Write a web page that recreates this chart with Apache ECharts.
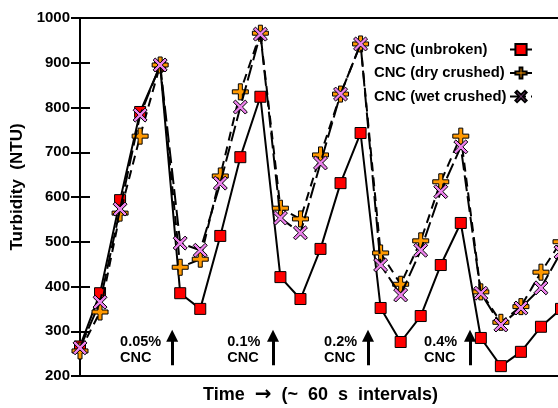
<!DOCTYPE html>
<html>
<head>
<meta charset="utf-8">
<script src="https://cdn.jsdelivr.net/npm/echarts@6/dist/echarts.min.js"></script>
<style>
  html, body { margin: 0; padding: 0; background: #fff; }
  #chart { width: 558px; height: 408px; }
</style>
</head>
<body>
<div id="chart"></div>
<script>
  // data (one reading per ~60 s interval)
  const unbroken = [266, 385, 593, 790, 893, 385, 350, 513, 689, 824, 421, 372, 484, 631, 743, 352, 276, 334, 448, 542, 285, 222, 254, 310, 350]
  const dryCrushed = [256, 343, 564, 736, 895, 443, 461, 647, 835, 966, 575, 551, 694, 830, 942, 475, 405, 502, 634, 736, 388, 320, 355, 432, 500]
  const wetCrushed = [263, 365, 573, 783, 895, 497, 481, 631, 801, 964, 553, 520, 676, 830, 942, 448, 381, 481, 612, 712, 385, 314, 352, 397, 477]
  const seriesNames = ['CNC (unbroken)', 'CNC (dry crushed)', 'CNC (wet crushed)']
  // CNC dose additions: arrow position (in intervals) and label
  const doseAt = [4.6, 9.63, 14.37, 19.46]
  const doseText = ['0.05%', '0.1%', '0.2%', '0.4%']
  const doseTextAt = [2.0, 7.35, 12.18, 17.17]
  const yTicks = [200, 1000, 100]

  const FONT = '"Liberation Sans", Arial, sans-serif'
  const plusPath = 'path://M6,0H10V6H16V10H10V16H6V10H0V6H6Z'
  const crossPath = 'path://M3,0L10,7L17,0L20,3L13,10L20,17L17,20L10,13L3,20L0,17L7,10L0,3Z'

  const toPairs = arr => arr.map((v, i) => [i, v])

  const chartDom = document.getElementById('chart')
  const myChart = echarts.init(chartDom)

  const option = {
    animation: false,
    textStyle: { fontFamily: FONT },
    grid: { left: 80, top: 18, right: -3, bottom: 32, outerBoundsMode: 'none' },
    legend: {
      orient: 'vertical',
      left: 369,
      top: 37,
      align: 'right',
      itemWidth: 22,
      itemHeight: 14,
      itemGap: 8.5,
      data: seriesNames,
      // fixed-width box so names stay left aligned and the keys line up
      formatter: name => '{n|' + name + '}',
      textStyle: {
        fontFamily: FONT, fontSize: 14.8, fontWeight: 'bold', color: '#000',
        rich: { n: { width: 131, align: 'left', fontFamily: FONT, fontSize: 14.8, fontWeight: 'bold', color: '#000', lineHeight: 14 } }
      }
    },
    xAxis: [{
      type: 'value',
      min: 0,
      max: unbroken.length - 1,
      name: '{t|Time}  {a|\u2192}  {t|(~  60  s  intervals)}',
      nameLocation: 'middle',
      nameGap: 9,
      nameTextStyle: {
        fontFamily: FONT, fontSize: 18, fontWeight: 'bold', color: '#000',
        rich: {
          t: { fontFamily: FONT, fontSize: 18, fontWeight: 'bold', color: '#000', lineHeight: 20 },
          a: { fontFamily: '"DejaVu Sans", sans-serif', fontSize: 20, color: '#000', lineHeight: 20 }
        }
      },
      axisLine: { onZero: false, lineStyle: { color: '#000', width: 2 } },
      axisTick: { show: false },
      axisLabel: { show: false },
      splitLine: { show: false }
    }, {
      type: 'value',
      position: 'top',
      min: 0,
      max: unbroken.length - 1,
      axisLine: { onZero: false, lineStyle: { color: '#000', width: 2 } },
      axisTick: { show: false },
      axisLabel: { show: false },
      splitLine: { show: false }
    }],
    yAxis: [{
      type: 'value',
      min: yTicks[0],
      max: yTicks[1],
      interval: yTicks[2],
      name: 'Turbidity  (NTU)',
      nameLocation: 'middle',
      nameGap: 51,
      nameTextStyle: { fontFamily: FONT, fontSize: 17, fontWeight: 'bold', color: '#000', padding: [0, 0, 0, 20] },
      axisLine: { show: true, lineStyle: { color: '#000', width: 2 } },
      axisTick: { show: true, inside: true, length: 10, lineStyle: { color: '#000', width: 2 } },
      axisLabel: { margin: 10, fontFamily: FONT, fontSize: 15, fontWeight: 'bold', color: '#000', formatter: v => String(v) },
      splitLine: { show: false }
    }, {
      type: 'value',
      position: 'right',
      min: yTicks[0],
      max: yTicks[1],
      interval: yTicks[2],
      axisLine: { show: true, lineStyle: { color: '#000', width: 2 } },
      axisTick: { show: true, inside: true, length: 9, lineStyle: { color: '#000', width: 2 } },
      axisLabel: { show: false },
      splitLine: { show: false }
    }],
    series: [{
      name: seriesNames[0],
      type: 'line',
      data: toPairs(unbroken),
      symbol: 'rect',
      symbolSize: 11,
      itemStyle: { color: '#ff0000', borderColor: '#000', borderWidth: 1 },
      lineStyle: { color: '#000', width: 2, type: 'solid' },
      z: 3,
      markLine: {
        silent: true,
        symbol: ['none', 'triangle'],
        symbolSize: 12,
        label: { show: false },
        lineStyle: { color: '#000', width: 3, type: 'solid' },
        data: doseAt.map(x => [{ coord: [x, 224] }, { coord: [x, 290] }])
      },
      markPoint: {
        silent: true,
        symbol: 'circle',
        symbolSize: 0,
        data: doseText.map((t, i) => ({
          coord: [doseTextAt[i], 258],
          label: {
            show: true,
            position: 'right',
            distance: 0,
            formatter: t + '\nCNC',
            fontFamily: FONT,
            fontSize: 14.5,
            fontWeight: 'bold',
            lineHeight: 16,
            color: '#000'
          }
        }))
      }
    }, {
      name: seriesNames[1],
      type: 'line',
      data: toPairs(dryCrushed),
      symbol: plusPath,
      symbolSize: 16,
      itemStyle: { color: '#ff9900', borderColor: '#000', borderWidth: 1 },
      lineStyle: { color: '#000', width: 2, type: [9, 6] },
      z: 4
    }, {
      name: seriesNames[2],
      type: 'line',
      data: toPairs(wetCrushed),
      symbol: crossPath,
      symbolSize: 14,
      itemStyle: { color: '#ee82ee', borderColor: '#000', borderWidth: 1 },
      lineStyle: { color: '#000', width: 2, type: [16, 5] },
      z: 5
    }]
  }

  myChart.setOption(option)
</script>
</body>
</html>
